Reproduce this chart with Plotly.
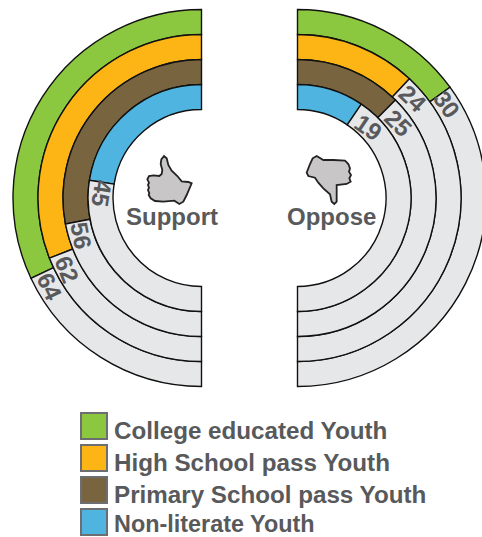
import math
import plotly.graph_objects as go

levels = ["College educated Youth", "High School pass Youth", "Primary School pass Youth", "Non-literate Youth"]
support = [64, 62, 56, 45]
oppose = [30, 24, 25, 19]
colors = ["#8CC83F", "#FDB515", "#786540", "#4FB5E0"]
rest_color = "#E6E7E9"
ink = "#58595B"

W, H = 490, 537
R_RANGE = 190
outer = [188.5, 163.5, 138.5, 113.5]
thick = 25
CY = 198
CL, CR = 201.5, 297.5
label_deg_left = [5.0, 6.3, 6.5, 6.5]
label_deg_right = [4.0, 6.0, 8.5, 11.0]
label_r = [176, 152, 126, 100]


def px(x):
    return x / W


def py(y):
    return 1 - y / H


fig = go.Figure()
for polar, vals, side in (("polar", support, 1), ("polar2", oppose, -1)):
    for i, v in enumerate(vals):
        for val, start, col in ((v, 0, colors[i]), (100 - v, v, rest_color)):
            w = val * 1.8
            theta = 90 + side * (start * 1.8 + w / 2)
            fig.add_trace(go.Barpolar(
                subplot=polar, r=[thick], base=[outer[i] - thick], theta=[theta], width=[w],
                marker=dict(color=col, line=dict(color="#111111", width=1.4)),
                name=levels[i], showlegend=False, hoverinfo="skip"))

polar_common = dict(
    bgcolor="rgba(0,0,0,0)", barmode="overlay",
    radialaxis=dict(visible=False, range=[0, R_RANGE]),
    angularaxis=dict(visible=False, direction="counterclockwise", rotation=0),
)
fig.update_layout(
    width=W, height=H, autosize=False, margin=dict(l=0, r=0, t=0, b=0),
    paper_bgcolor="white", showlegend=False,
    polar=dict(domain=dict(x=[px(CL - R_RANGE), px(CL + R_RANGE)], y=[py(CY + R_RANGE), py(CY - R_RANGE)]), **polar_common),
    polar2=dict(domain=dict(x=[px(CR - R_RANGE), px(CR + R_RANGE)], y=[py(CY + R_RANGE), py(CY - R_RANGE)]), **polar_common),
)

ann = []


def text(x, y, s, size, angle=0, anchor="center"):
    ann.append(dict(x=px(x), y=py(y), xref="paper", yref="paper", text=f"<b>{s}</b>", showarrow=False,
                    textangle=angle, xanchor=anchor, yanchor="middle", borderpad=0,
                    font=dict(family="Liberation Sans, Arial", size=size, color=ink)))


for i in range(4):
    a = support[i] * 1.8 + label_deg_left[i]
    r = label_r[i]
    text(CL - r * math.sin(math.radians(a)), CY - r * math.cos(math.radians(a)), str(support[i]), 24,
         180 - support[i] * 1.8)
    a = oppose[i] * 1.8 + label_deg_right[i]
    text(CR + r * math.sin(math.radians(a)), CY - r * math.cos(math.radians(a)), str(oppose[i]), 24,
         oppose[i] * 1.8)

text(172, 217, "Support", 24)
text(331, 217, "Oppose", 24)

shapes = []
legend_y = [426, 458, 490, 522]
legend_text_y = [430, 462, 494, 523.5]
legend_size = [24.2, 24.2, 24.2, 23.4]
for i, name in enumerate(levels):
    y = legend_y[i]
    shapes.append(dict(type="rect", xref="paper", yref="paper", x0=px(81), x1=px(107), y0=py(y + 13), y1=py(y - 13),
                       fillcolor=colors[i], line=dict(color="#6D6E71", width=2)))
    text(113, legend_text_y[i], name, legend_size[i], anchor="left")


def icon(points, ox, oy):
    d = ""
    pts = [(ox + a / 3, oy + b / 3) for a, b in points]
    for j, (a, b) in enumerate(pts):
        d += f"{'M' if j == 0 else 'L'}{px(a):.5f},{py(b):.5f} "
    return dict(type="path", xref="paper", yref="paper", path=d + "Z", fillcolor="#C8C6C7",
                line=dict(color="#222222", width=1.8))


thumb_up = [(132, 48), (124, 58), (122, 72), (127, 90), (125, 102), (118, 108), (100, 106), (87, 108), (82, 118),
            (87, 128), (84, 135), (87, 143), (84, 150), (88, 160), (86, 165), (92, 175), (105, 183), (130, 185),
            (163, 182), (178, 192), (190, 185), (200, 165), (215, 130), (205, 126), (185, 124), (172, 108),
            (155, 92), (145, 75), (140, 55)]
thumb_down = [(110, 48), (98, 55), (90, 72), (80, 98), (85, 108), (105, 113), (115, 128), (130, 145), (150, 163),
              (155, 185), (163, 192), (170, 185), (170, 135), (200, 132), (212, 125), (208, 115), (213, 105),
              (207, 95), (210, 85), (205, 72), (195, 62), (160, 60), (130, 60)]
shapes.append(icon(thumb_up, 120, 140))
shapes.append(icon(thumb_down, 280, 140))

fig.update_layout(annotations=ann, shapes=shapes)
fig.write_html("out.html", post_script="document.body.style.margin='0';document.body.style.overflow='hidden';document.documentElement.style.overflow='hidden';",
               config={"displayModeBar": False})
